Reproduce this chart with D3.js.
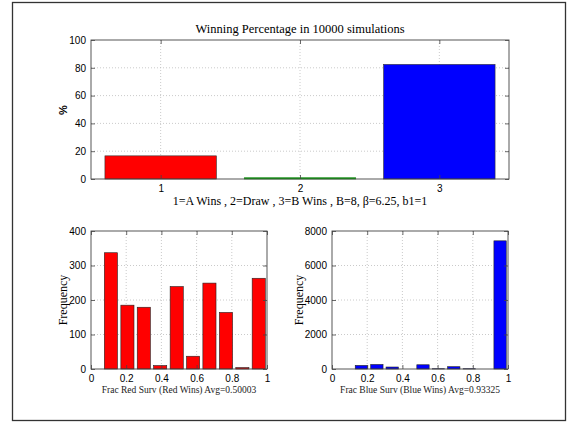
<!DOCTYPE html>
<html>
<head>
<meta charset="utf-8">
<script src="https://cdn.jsdelivr.net/npm/d3@7"></script>
<style>
  html, body { margin: 0; padding: 0; background: #fff; }
  svg { display: block; }
  .tick text { font-family: "Liberation Sans", Arial, sans-serif; font-size: 10px; fill: #000; }
</style>
</head>
<body>
<svg id="fig" width="572" height="424"></svg>
<script>
// Outcome shares (percent) of the 10000 simulated battles
const outcomes = [1, 2, 3];
const outcomePct = [16.65, 0.9, 82.45];
const outcomeColors = ["#ff0000", "#00c000", "#0000ff"];
const outcomeStroke = ["#333", "#108010", "#333"];
const pctTicks = [0, 20, 40, 60, 80, 100];

// Histogram of surviving red fraction when red wins
const redCenters = [0.113, 0.207, 0.300, 0.393, 0.487, 0.580, 0.673, 0.767, 0.860, 0.953];
const redCounts  = [337, 185, 179, 10, 239, 37, 249, 164, 4, 263];
const redBinWidth = 0.0933;
const redTicks = [0, 100, 200, 300, 400];

// Histogram of surviving blue fraction when blue wins
const blueCenters = [0.167, 0.255, 0.342, 0.430, 0.517, 0.605, 0.692, 0.780, 0.867, 0.955];
const blueCounts  = [208, 262, 115, 0, 245, 17, 133, 17, 0, 7430];
const blueBinWidth = 0.0875;
const blueTicks = [0, 2000, 4000, 6000, 8000];

const fracTicks = [0, 0.2, 0.4, 0.6, 0.8, 1];

const svg = d3.select("#fig");
const serif = "'Liberation Serif', 'DejaVu Serif', serif";

// Figure frame
svg.append("rect")
  .attr("x", 12.5).attr("y", 2.5).attr("width", 553).attr("height", 418)
  .attr("fill", "none").attr("stroke", "#333").attr("stroke-width", 1.3);

function drawGrid(g, x, y, w, h, xs, ys, xticks, yticks) {
  // dotted grid
  g.append("g").selectAll("line").data(yticks.filter(t => ys(t) > y + 0.5 && ys(t) < y + h - 0.5)).join("line")
    .attr("x1", x).attr("x2", x + w)
    .attr("y1", d => ys(d)).attr("y2", d => ys(d))
    .attr("stroke", "#bdbdbd").attr("stroke-width", 0.8).attr("stroke-dasharray", "1,2");
  g.append("g").selectAll("line").data(xticks.filter(t => xs(t) > x + 0.5 && xs(t) < x + w - 0.5)).join("line")
    .attr("y1", y).attr("y2", y + h)
    .attr("x1", d => xs(d)).attr("x2", d => xs(d))
    .attr("stroke", "#bdbdbd").attr("stroke-width", 0.8).attr("stroke-dasharray", "1,2");
}

function finishAxes(g, x, y, w, h, xs, ys, xticks, yticks, xfmt, yfmt) {
  // axes with inward ticks on all four sides
  const ax = g.append("g").attr("transform", `translate(0,${y + h})`)
    .call(d3.axisBottom(xs).tickValues(xticks).tickFormat(xfmt).tickSizeInner(-4).tickSizeOuter(0).tickPadding(6));
  const ay = g.append("g").attr("transform", `translate(${x},0)`)
    .call(d3.axisLeft(ys).tickValues(yticks).tickFormat(yfmt).tickSizeInner(-4).tickSizeOuter(0).tickPadding(5));
  const at = g.append("g").attr("transform", `translate(0,${y})`)
    .call(d3.axisTop(xs).tickValues(xticks).tickFormat("").tickSizeInner(-4).tickSizeOuter(0));
  const ar = g.append("g").attr("transform", `translate(${x + w},0)`)
    .call(d3.axisRight(ys).tickValues(yticks).tickFormat("").tickSizeInner(-4).tickSizeOuter(0));
  [ax, ay, at, ar].forEach(a => {
    a.select(".domain").remove();
    a.selectAll(".tick line").attr("stroke", "#444").attr("stroke-width", 0.8);
  });
  g.append("rect").attr("x", x).attr("y", y).attr("width", w).attr("height", h)
    .attr("fill", "none").attr("stroke", "#444").attr("stroke-width", 0.9);
}

// ---------- Top: winning percentage ----------
{
  const x = 91, y = 40, w = 418, h = 139;
  const xs = d3.scaleLinear().domain([0.5, 3.5]).range([x, x + w]);
  const ys = d3.scaleLinear().domain([0, 100]).range([y + h, y]);
  const g = svg.append("g");
  drawGrid(g, x, y, w, h, xs, ys, outcomes, pctTicks);
  g.append("g").selectAll("rect").data(outcomes).join("rect")
    .attr("x", (d) => xs(d - 0.4))
    .attr("width", () => xs(0.8) - xs(0))
    .attr("y", (d, i) => ys(outcomePct[i]))
    .attr("height", (d, i) => ys(0) - ys(outcomePct[i]))
    .attr("fill", (d, i) => outcomeColors[i])
    .attr("stroke", (d, i) => outcomeStroke[i]).attr("stroke-width", 0.6);
  finishAxes(g, x, y, w, h, xs, ys, outcomes, pctTicks, d3.format("d"), d3.format("d"));
  svg.append("text").attr("x", x + w / 2).attr("y", 33).attr("text-anchor", "middle")
    .attr("font-family", serif).attr("font-size", 12.5).text("Winning Percentage in 10000 simulations");
  svg.append("text").attr("x", x + w / 2).attr("y", 205).attr("text-anchor", "middle")
    .attr("font-family", serif).attr("font-size", 12).text("1=A Wins , 2=Draw , 3=B Wins , B=8, \u03B2=6.25, b1=1");
  svg.append("text").attr("transform", "translate(67,110) rotate(-90)").attr("text-anchor", "middle")
    .attr("font-family", "'Liberation Sans', Arial, sans-serif").attr("font-weight", "bold")
    .attr("font-size", 11).text("%");
}

// ---------- Bottom histograms ----------
function histogram(x, centers, counts, binWidth, yTicks, yMax, color, xlabel, ylabelX) {
  const y = 231, w = 176, h = 138;
  const xs = d3.scaleLinear().domain([0, 1]).range([x, x + w]);
  const ys = d3.scaleLinear().domain([0, yMax]).range([y + h, y]);
  const g = svg.append("g");
  drawGrid(g, x, y, w, h, xs, ys, fracTicks, yTicks);
  const bw = binWidth * 0.8;
  g.append("g").selectAll("rect").data(centers).join("rect")
    .attr("x", d => xs(d - bw / 2))
    .attr("width", xs(bw) - xs(0))
    .attr("y", (d, i) => ys(counts[i]))
    .attr("height", (d, i) => ys(0) - ys(counts[i]))
    .attr("fill", color)
    .attr("stroke", "#222").attr("stroke-width", 0.6);
  finishAxes(g, x, y, w, h, xs, ys, fracTicks, yTicks, d3.format("~g"), d3.format("d"));
  svg.append("text").attr("x", x + w / 2).attr("y", 393).attr("text-anchor", "middle")
    .attr("font-family", serif).attr("font-size", 9.5).attr("fill", "#222")
    .text(xlabel);
  svg.append("text").attr("transform", `translate(${ylabelX},${y + h / 2}) rotate(-90)`).attr("text-anchor", "middle")
    .attr("font-family", serif).attr("font-size", 12).text("Frequency");
}

histogram(91, redCenters, redCounts, redBinWidth, redTicks, 400, "#ff0000",
  "Frac Red Surv (Red Wins) Avg=0.50003", 67);
histogram(332, blueCenters, blueCounts, blueBinWidth, blueTicks, 8000, "#0000ff",
  "Frac Blue Surv (Blue Wins) Avg=0.93325", 303);
</script>
</body>
</html>
